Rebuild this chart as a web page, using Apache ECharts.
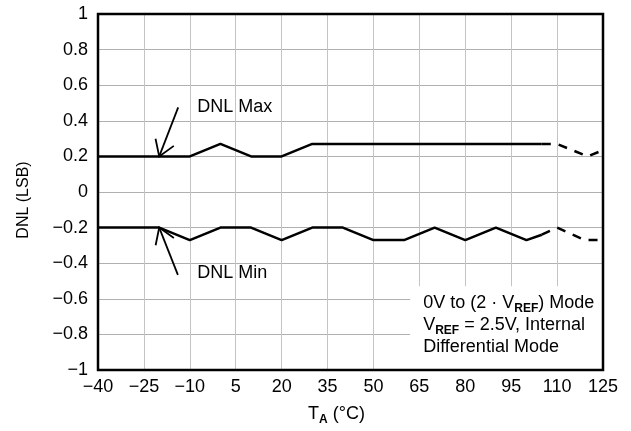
<!DOCTYPE html>
<html>
<head>
<meta charset="utf-8">
<script src="https://cdn.jsdelivr.net/npm/echarts@6/dist/echarts.min.js"></script>
<style>
html,body{margin:0;padding:0;background:#fff;}
#chart{width:631px;height:431px;}
</style>
</head>
<body>
<div id="chart"></div>
<script>
// Temperatures (°C) and DNL values (LSB)
const maxSolidT = [-40, -10, 0, 10, 20, 30, 105];
const maxSolidV = [0.2, 0.2, 0.27, 0.2, 0.2, 0.27, 0.27];
const maxDashT = [105, 110, 120, 125];
const maxDashV = [0.27, 0.27, 0.2, 0.235];
const minSolidT = [-40, -20, -10, 0, 10, 20, 30, 40, 50, 60, 70, 80, 90, 100, 105];
const minSolidV = [-0.2, -0.2, -0.27, -0.2, -0.2, -0.27, -0.2, -0.2, -0.27, -0.27, -0.2, -0.27, -0.2, -0.27, -0.24];
const minDashT = [105, 110, 119, 125];
const minDashV = [-0.24, -0.2, -0.27, -0.27];

const xTicks = [-40, -25, -10, 5, 20, 35, 50, 65, 80, 95, 110, 125];
const yTicks = [-1, -0.8, -0.6, -0.4, -0.2, 0, 0.2, 0.4, 0.6, 0.8, 1];

// annotations in data coordinates
const maxLabel = {text: 'DNL Max', at: [-7.6, 0.48], from: [-13.8, 0.475], to: [-20, 0.2]};
const minLabel = {text: 'DNL Min', at: [-7.6, -0.457], from: [-13.9, -0.466], to: [-20, -0.2]};
const noteLines = ['0V to (2 · V{sub|REF}) Mode', 'V{sub|REF} = 2.5V, Internal', 'Differential Mode'];

const FONT = '"Liberation Sans", Arial, Helvetica, sans-serif';
const FS = 18;
const zip = (t, v) => t.map((x, i) => [x, v[i]]);
const fmt = v => String(Math.round(v * 10) / 10).replace('-', '\u2212');

const chart = echarts.init(document.getElementById('chart'), null, {renderer: 'canvas'});
const lineStyle = {color: '#000', width: 2.5};
chart.setOption({
  animation: false,
  backgroundColor: '#fff',
  grid: {left: 98, right: 28, top: 14, bottom: 57},
  xAxis: {
    type: 'value', min: xTicks[0], max: xTicks[xTicks.length - 1], interval: 15,
    axisLine: {show: false}, axisTick: {show: false},
    splitLine: {show: true, lineStyle: {color: '#c4c4c4', width: 1}},
    axisLabel: {formatter: fmt, color: '#000', fontFamily: FONT, fontSize: FS, margin: 8},
    name: 'T{sub|A} (°C)', nameLocation: 'middle', nameGap: 35,
    nameTextStyle: {color: '#000', fontFamily: FONT, fontSize: FS, padding: [0, 28, 0, 0],
      rich: {sub: {fontFamily: FONT, fontSize: 12, fontWeight: 'bold', verticalAlign: 'bottom', lineHeight: 14, padding: [0, 0, -3, 0]}}}
  },
  yAxis: {
    type: 'value', min: yTicks[0], max: yTicks[yTicks.length - 1], interval: 0.2,
    axisLine: {show: false}, axisTick: {show: false},
    splitLine: {show: true, lineStyle: {color: '#b0b0b0', width: 1}},
    axisLabel: {formatter: fmt, color: '#000', fontFamily: FONT, fontSize: FS, margin: 10},
    name: 'DNL (LSB)', nameLocation: 'middle', nameGap: 66, nameRotate: 90,
    nameTextStyle: {color: '#000', fontFamily: FONT, fontSize: 16, padding: [0, 16, 0, 0]}
  },
  series: [
    {type: 'line', data: zip(maxSolidT, maxSolidV), symbol: 'none', lineStyle: lineStyle, z: 3},
    {type: 'line', data: zip(maxDashT, maxDashV), symbol: 'none', lineStyle: Object.assign({type: [9, 8]}, lineStyle), z: 3},
    {type: 'line', data: zip(minSolidT, minSolidV), symbol: 'none', lineStyle: lineStyle, z: 3},
    {type: 'line', data: zip(minDashT, minDashV), symbol: 'none', lineStyle: Object.assign({type: [9, 8]}, lineStyle), z: 3}
  ]
});

function arrowGraphics(a) {
  const p0 = chart.convertToPixel({gridIndex: 0}, a.from);
  const p1 = chart.convertToPixel({gridIndex: 0}, a.to);
  const ang = Math.atan2(p0[1] - p1[1], p0[0] - p1[0]);
  const L = 18, h = 33 * Math.PI / 180;
  const h1 = [p1[0] + L * Math.cos(ang + h), p1[1] + L * Math.sin(ang + h)];
  const h2 = [p1[0] + L * Math.cos(ang - h), p1[1] + L * Math.sin(ang - h)];
  const tp = chart.convertToPixel({gridIndex: 0}, a.at);
  const st = {stroke: '#000', lineWidth: 1.8, fill: null};
  return [
    {type: 'polyline', shape: {points: [p0, p1]}, style: st, z: 5},
    {type: 'polyline', shape: {points: [h1, p1, h2]}, style: st, z: 5},
    {type: 'text', x: tp[0], y: tp[1], style: {text: a.text, fill: '#000', font: FS + 'px ' + FONT, verticalAlign: 'middle', align: 'left'}, z: 5}
  ];
}

const tl = chart.convertToPixel({gridIndex: 0}, [xTicks[0], yTicks[yTicks.length - 1]]);
const br = chart.convertToPixel({gridIndex: 0}, [xTicks[xTicks.length - 1], yTicks[0]]);
const boxTL = chart.convertToPixel({gridIndex: 0}, [62, -0.53]);
const graphics = [].concat(arrowGraphics(maxLabel), arrowGraphics(minLabel));
graphics.push({type: 'rect', shape: {x: boxTL[0], y: boxTL[1], width: br[0] - boxTL[0], height: br[1] - boxTL[1]}, style: {fill: '#fff'}, z: 4});
graphics.push({type: 'text', x: boxTL[0] + 13, y: boxTL[1] + 6,
  style: {text: noteLines.join('\n'), fill: '#000', font: FS + 'px ' + FONT, lineHeight: 22,
    rich: {sub: {fill: '#000', fontFamily: FONT, fontSize: 12, fontWeight: 'bold', lineHeight: 22, verticalAlign: 'bottom'}}}, z: 5});
graphics.push({type: 'rect', shape: {x: tl[0], y: tl[1], width: br[0] - tl[0], height: br[1] - tl[1]}, style: {fill: null, stroke: '#000', lineWidth: 2.5}, z: 6});
chart.setOption({graphic: graphics});
</script>
</body>
</html>
